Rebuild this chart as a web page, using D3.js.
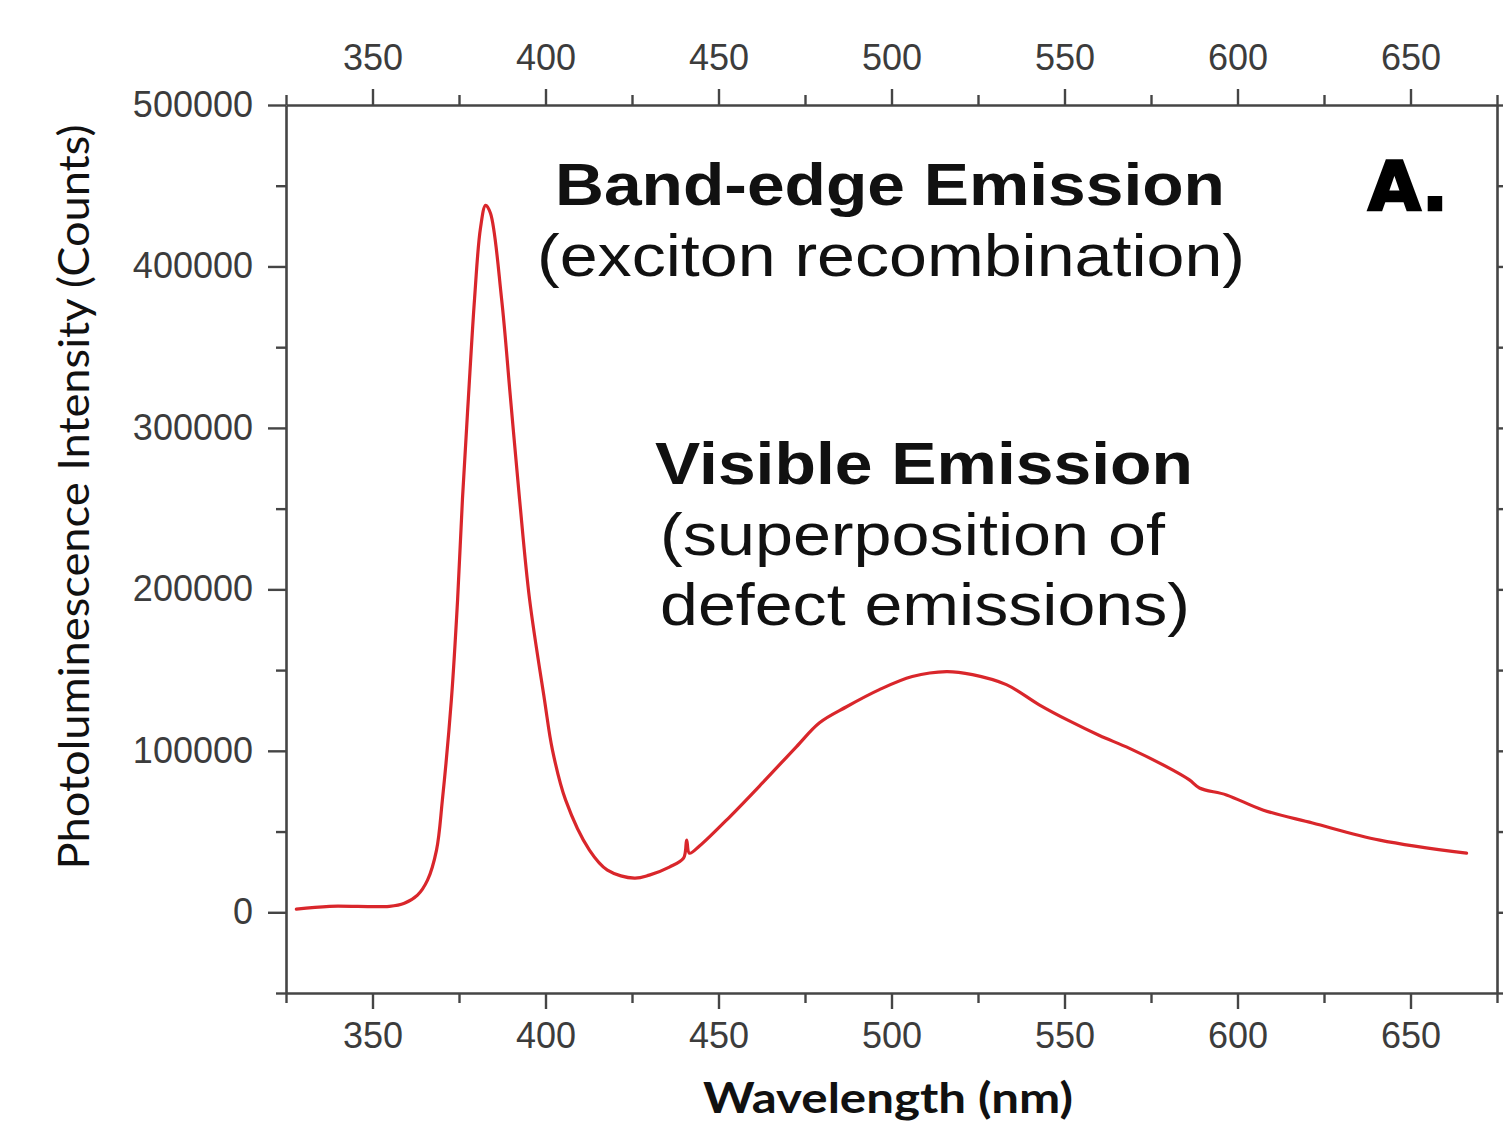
<!DOCTYPE html>
<html>
<head>
<meta charset="utf-8">
<script src="https://cdn.jsdelivr.net/npm/d3@7"></script>
<style>
  html, body { margin: 0; padding: 0; background: #fff; }
  svg { display: block; }
</style>
</head>
<body>
<svg id="chart" width="1503" height="1126"></svg>
<script>
// ---- Data ----
const wavelength = [328, 337.6, 354.9, 359.2, 363.0, 365.9, 368.5, 370.2, 372.8, 374.6, 376.0, 377.7, 379.5, 381.2, 382.7, 384.1, 387.3, 389.9, 392.5, 395.4, 399.7, 402.0, 405.8, 412.7, 417.9, 425.7, 430.0, 435.8, 439.9, 440.8, 441.6, 444.5, 453.2, 462.7, 472.5, 479.2, 487.0, 496.5, 506.0, 515.9, 523.4, 533.2, 542.7, 551.4, 560.1, 568.8, 581.2, 586.1, 589.0, 596.8, 607.3, 621.7, 641.1, 666.2];
const intensity = [1900, 3700, 3700, 5600, 10600, 19900, 38500, 69600, 131700, 193800, 255900, 318000, 380100, 423600, 437900, 432900, 380100, 318000, 255900, 193800, 131700, 100600, 69600, 38500, 26100, 21100, 23000, 28000, 33500, 44700, 36600, 41000, 59000, 80100, 102500, 117400, 127300, 137900, 146000, 149100, 147200, 141000, 128500, 118500, 109500, 101500, 88200, 82000, 77000, 72700, 63400, 55300, 44700, 36600];

const xDomain = [325, 675];
const yDomain = [-50000, 500000];
const xMajorTicks = [350, 400, 450, 500, 550, 600, 650];
const xMinorTicks = [325, 375, 425, 475, 525, 575, 625, 675];
const yMajorTicks = [0, 100000, 200000, 300000, 400000, 500000];
const yMinorTicks = [-50000, 50000, 150000, 250000, 350000, 450000];

const xLabel = "Wavelength (nm)";
const yLabel = "Photoluminescence Intensity (Counts)";
const annotations = [
  { text: "Band-edge Emission", x: 555, y: 205, len: 670, bold: true },
  { text: "(exciton recombination)", x: 537, y: 276, len: 708, bold: false },
  { text: "Visible Emission", x: 655, y: 484, len: 538, bold: true },
  { text: "(superposition of", x: 660, y: 555, len: 505, bold: false },
  { text: "defect emissions)", x: 660, y: 625, len: 530, bold: false }
];

// ---- Layout ----
const L = 286, R = 1497, T = 105, B = 993;
const axisColor = "#454545";
const labelColor = "#3c3c3c";

const svg = d3.select("#chart");
svg.append("rect").attr("width", 1503).attr("height", 1126).attr("fill", "#fff");

const x = d3.scaleLinear().domain(xDomain).range([L, R]);
const y = d3.scaleLinear().domain(yDomain).range([B, T]);

function styleAxis(g) {
  g.selectAll("path.domain").attr("stroke", axisColor).attr("stroke-width", 2.6);
  g.selectAll(".tick line").attr("stroke", axisColor).attr("stroke-width", 2.4);
  g.selectAll(".tick text")
    .attr("fill", labelColor)
    .style("font-family", "'Liberation Sans', Arial, sans-serif")
    .style("font-size", "36px");
}

// bottom axis
const gB = svg.append("g").attr("transform", `translate(0,${B})`)
  .call(d3.axisBottom(x).tickValues(xMajorTicks).tickSize(16).tickSizeOuter(0).tickPadding(13).tickFormat(d3.format("d")));
styleAxis(gB);
svg.append("g").attr("transform", `translate(0,${B})`)
  .call(d3.axisBottom(x).tickValues(xMinorTicks).tickSize(10).tickSizeOuter(0).tickFormat(""))
  .call(g => { g.select("path.domain").remove(); styleAxis(g); });

// top axis
const gT = svg.append("g").attr("transform", `translate(0,${T})`)
  .call(d3.axisTop(x).tickValues(xMajorTicks).tickSize(16).tickSizeOuter(0).tickPadding(19).tickFormat(d3.format("d")));
styleAxis(gT);
svg.append("g").attr("transform", `translate(0,${T})`)
  .call(d3.axisTop(x).tickValues(xMinorTicks).tickSize(10).tickSizeOuter(0).tickFormat(""))
  .call(g => { g.select("path.domain").remove(); styleAxis(g); });

// left axis
const gL = svg.append("g").attr("transform", `translate(${L},0)`)
  .call(d3.axisLeft(y).tickValues(yMajorTicks).tickSize(18).tickSizeOuter(0).tickPadding(15).tickFormat(d3.format("d")));
styleAxis(gL);
svg.append("g").attr("transform", `translate(${L},0)`)
  .call(d3.axisLeft(y).tickValues(yMinorTicks).tickSize(10).tickSizeOuter(0).tickFormat(""))
  .call(g => { g.select("path.domain").remove(); styleAxis(g); });

// right axis
const gR = svg.append("g").attr("transform", `translate(${R},0)`)
  .call(d3.axisRight(y).tickValues(yMajorTicks).tickSize(10).tickSizeOuter(0).tickFormat(""));
styleAxis(gR);
svg.append("g").attr("transform", `translate(${R},0)`)
  .call(d3.axisRight(y).tickValues(yMinorTicks).tickSize(6).tickSizeOuter(0).tickFormat(""))
  .call(g => { g.select("path.domain").remove(); styleAxis(g); });

// curve
const pts = wavelength.map((w, i) => [w, intensity[i]]);
const line = d3.line().x(d => x(d[0])).y(d => y(d[1])).curve(d3.curveCatmullRom.alpha(0.5));
svg.append("path").datum(pts)
  .attr("d", line)
  .attr("fill", "none")
  .attr("stroke", "#d9262b")
  .attr("stroke-width", 3.2)
  .attr("stroke-linejoin", "round")
  .attr("stroke-linecap", "round");

// annotations
annotations.forEach(a => {
  svg.append("text")
    .attr("x", a.x).attr("y", a.y)
    .attr("textLength", a.len).attr("lengthAdjust", "spacingAndGlyphs")
    .style("font-family", "'Liberation Sans', Arial, sans-serif")
    .style("font-size", "60px")
    .style("font-weight", a.bold ? "bold" : "normal")
    .attr("fill", "#111")
    .text(a.text);
});

// panel letter
svg.append("text")
  .attr("x", 1368).attr("y", 210)
  .attr("textLength", 80).attr("lengthAdjust", "spacingAndGlyphs")
  .style("font-family", "'DejaVu Sans', sans-serif")
  .style("font-size", "68px").style("font-weight", "bold")
  .attr("fill", "#000").attr("stroke", "#000").attr("stroke-width", 2.5)
  .text("A.");

// axis titles
svg.append("text")
  .attr("x", 888).attr("y", 1113)
  .attr("text-anchor", "middle")
  .attr("textLength", 370).attr("lengthAdjust", "spacingAndGlyphs")
  .style("font-family", "Lato, 'Open Sans', sans-serif")
  .style("font-size", "42px").style("font-weight", "bold")
  .attr("fill", "#111")
  .text(xLabel);

svg.append("text")
  .attr("transform", "translate(89,497) rotate(-90)")
  .attr("text-anchor", "middle")
  .attr("textLength", 745).attr("lengthAdjust", "spacingAndGlyphs")
  .style("font-family", "Lato, 'Open Sans', sans-serif")
  .style("font-size", "42px")
  .attr("fill", "#111")
  .text(yLabel);
</script>
</body>
</html>
